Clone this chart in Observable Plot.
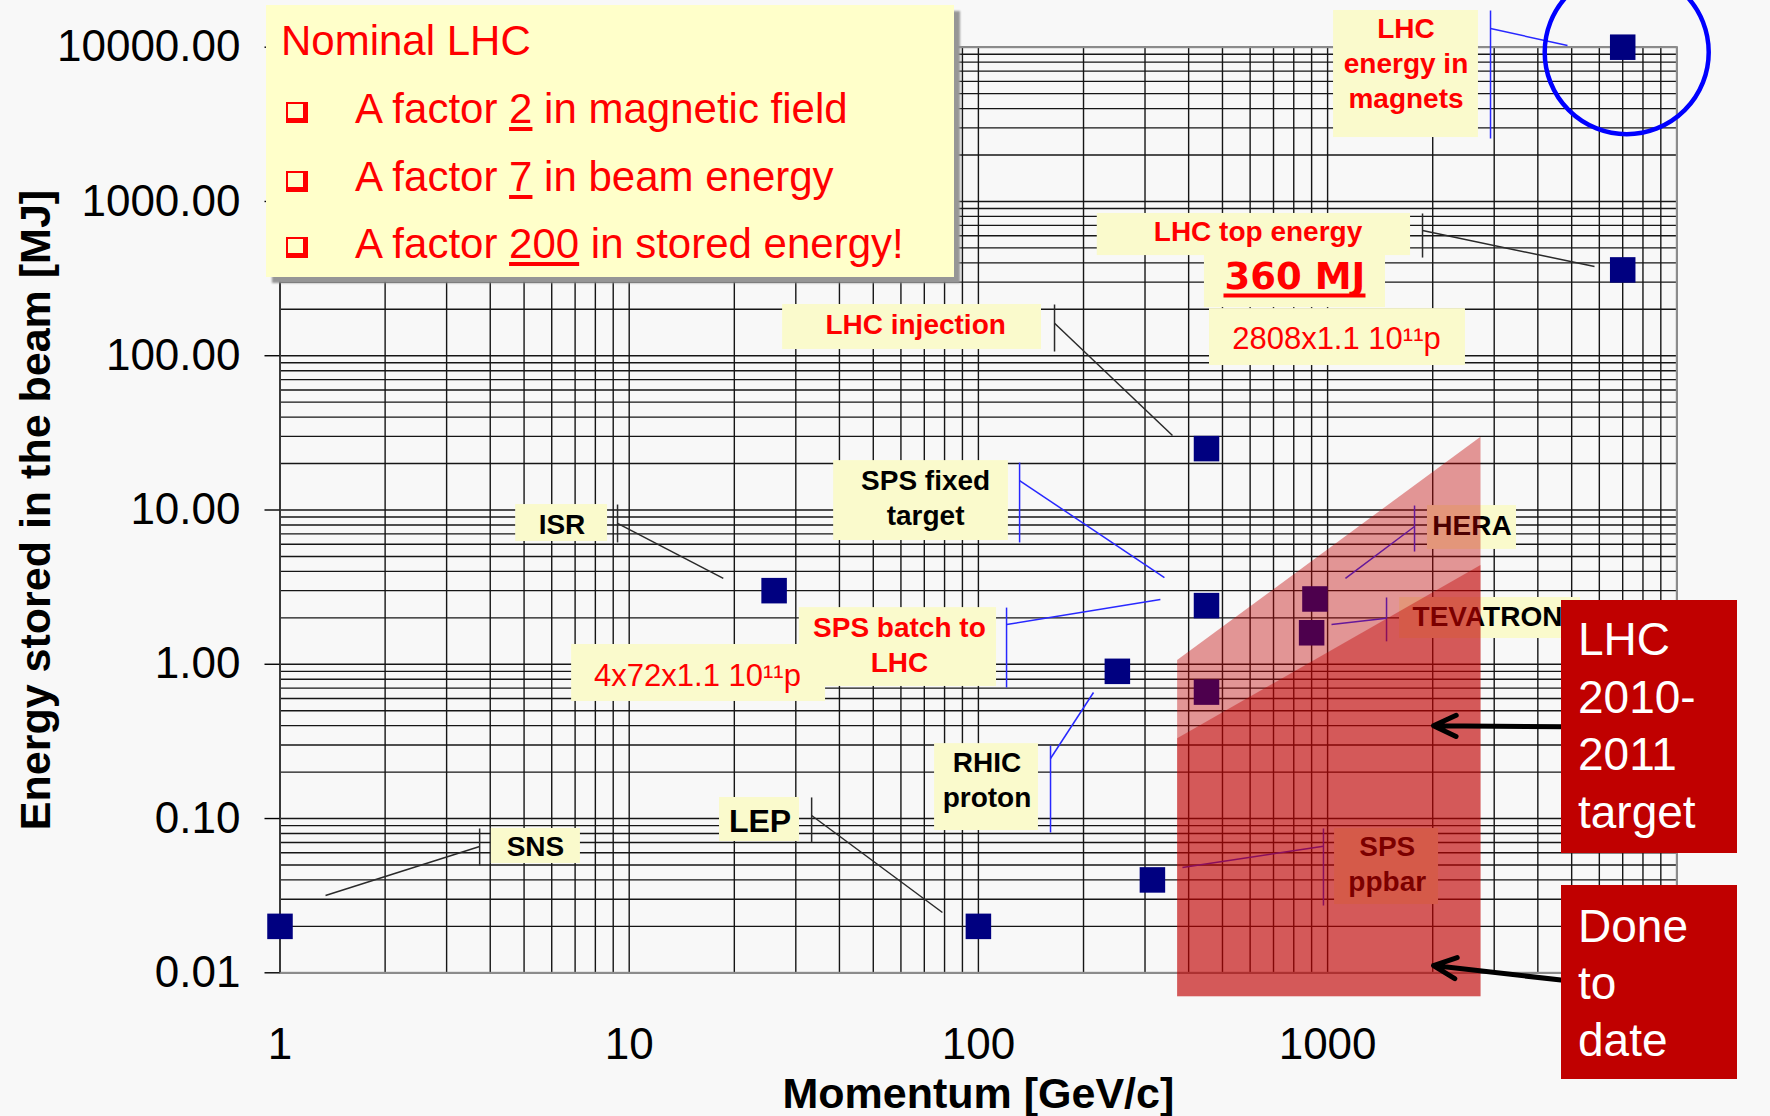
<!DOCTYPE html>
<html lang="en">
<head>
<meta charset="utf-8">
<title>Energy stored in the beam</title>
<script src="https://cdn.jsdelivr.net/npm/d3@7"></script>
<script src="https://cdn.jsdelivr.net/npm/@observablehq/plot@0.6"></script>
<style>
  html, body { margin: 0; padding: 0; background: #f8f8f8; overflow: hidden; }
  #chart { position: relative; width: 1770px; height: 1116px; overflow: hidden;
           font-family: "Liberation Sans", Arial, sans-serif; }
  #chart svg { display: block; }
  .note { position: absolute; box-sizing: border-box; }
  .nominal { left: 266px; top: 5px; width: 688px; height: 272px; background: #ffffca;
             box-shadow: 6px 6px 2px #969696; color: #ff0000; font-size: 42px; }
  .nominal .line { position: absolute; white-space: nowrap; line-height: 50px; }
  .nominal u { text-decoration-thickness: 3.5px; text-underline-offset: 4px; }
  .bullet { position: absolute; left: 20px; width: 15px; height: 14px; box-sizing: content-box;
            border: 2px solid #ff0000; border-right-width: 5px; border-bottom-width: 5px; }
  .redbox { left: 1561px; width: 176px; padding-left: 17px; background: #c00000; color: #ffffff;
            font-size: 46px; line-height: 57.4px; }
</style>
</head>
<body>
<div id="chart">
  <div class="note nominal">
    <div class="line" style="left:15px; top:10.5px">Nominal LHC</div>
    <span class="bullet" style="top:96.5px"></span>
    <div class="line" style="left:89px; top:78.8px">A factor <u>2</u> in magnetic field</div>
    <span class="bullet" style="top:165.5px"></span>
    <div class="line" style="left:89px; top:147.1px">A factor <u>7</u> in beam energy</div>
    <span class="bullet" style="top:232px"></span>
    <div class="line" style="left:89px; top:213.7px">A factor <u>200</u> in stored energy!</div>
  </div>
  <div class="note redbox" style="top:600px; height:253px; padding-top:11.4px">LHC<br>2010-<br>2011<br>target</div>
  <div class="note redbox" style="top:885px; height:194px; padding-top:12.5px">Done<br>to<br>date</div>
</div>
<script>
// Stored beam energy [MJ] against beam momentum [GeV/c]
const machines = ["SNS", "LEP", "ISR", "RHIC proton", "SPS ppbar", "SPS fixed target",
                  "SPS 450 GeV", "LHC injection", "HERA", "TEVATRON", "LHC top energy", "LHC energy in magnets"];
const momentumGeV    = [1,    100,  26, 250, 315,  450, 450,  450, 920,  900, 7000, 7000];
const storedEnergyMJ = [0.02, 0.02, 3,  0.9, 0.04, 2.4, 0.66, 25,  2.65, 1.6, 360,  10000];

// Axis ticks
const momentumTicks = [1, 10, 100, 1000];
const energyTicks = [0.01, 0.1, 1, 10, 100, 1000, 10000];

const points = machines.map((name, i) => ({name, momentum: momentumGeV[i], energy: storedEnergyMJ[i]}));

// Shaded regions: LHC 2010-2011 target (lighter) and done to date (drawn on top)
const zones = [
  {zone: "target", momentum: 372,  lo: 0.0070, hi: 1.058},
  {zone: "target", momentum: 2750, lo: 0.0070, hi: 29.65},
  {zone: "done",   momentum: 372,  lo: 0.0070, hi: 0.3287},
  {zone: "done",   momentum: 2750, lo: 0.0070, hi: 4.367}
];

// Callout boxes, in data coordinates
const calloutBoxes = [
  {x1: 1040, x2: 2704, y1: 2597, y2: 17290},      // LHC energy in magnets
  {x1: 219,  x2: 1728, y1: 446,  y2: 836},        // LHC top energy
  {x1: 444,  x2: 1465, y1: 205,  y2: 467},        // 360 MJ
  {x1: 459,  x2: 2482, y1: 86.4, y2: 202},        // 2808 bunches
  {x1: 27.5, x2: 151.6, y1: 109.7, y2: 214.8},    // LHC injection
  {x1: 38.5, x2: 121.9, y1: 6.34, y2: 20.9},      // SPS fixed target
  {x1: 30.7, x2: 112.7, y1: 0.718, y2: 2.33},     // SPS batch to LHC
  {x1: 6.84, x2: 36.5, y1: 0.574, y2: 1.343},     // 4x72 bunches
  {x1: 4.73, x2: 8.67, y1: 6.25, y2: 10.85},      // ISR
  {x1: 18.14, x2: 30.74, y1: 0.0710, y2: 0.1369}, // LEP
  {x1: 4.03, x2: 7.25, y1: 0.0511, y2: 0.0862},   // SNS
  {x1: 74.9, x2: 148.6, y1: 0.0836, y2: 0.306},   // RHIC proton
  {x1: 1932, x2: 3475, y1: 5.55, y2: 10.69},      // HERA
  {x1: 1607, x2: 5299, y1: 1.469, y2: 2.709},     // TEVATRON
  {x1: 1047, x2: 2078, y1: 0.0277, y2: 0.0862}    // SPS ppbar
];

const red = "#ff0000", ink = "#000000", lead = "#2a2a2a", blue = "#2828ff";

const singleLabels = [
  {text: "LHC top energy", x: 632,  y: 630,    color: red, size: 28},
  {text: "LHC injection",  x: 66.1, y: 157.9,  color: red, size: 28},
  {text: "ISR",            x: 6.42, y: 8.05,   color: ink, size: 28},
  {text: "LEP",            x: 23.7, y: 0.0950, color: ink, size: 32},
  {text: "SNS",            x: 5.39, y: 0.0649, color: ink, size: 28},
  {text: "HERA",           x: 2591, y: 7.90,   color: ink, size: 28}
];
const multiLabels = [
  {text: "LHC\nenergy in\nmagnets", x: 1677, y: 8017,   color: red},
  {text: "SPS fixed\ntarget",       x: 70.6, y: 12.18,  color: ink},
  {text: "SPS batch to\nLHC",       x: 59.4, y: 1.373,  color: red},
  {text: "RHIC\nproton",            x: 105.8, y: 0.1817, color: ink},
  {text: "SPS\nppbar",              x: 1482, y: 0.0522, color: ink}
];
const bunchLabels = [
  {text: "2808x1.1 10\u00b9\u00b9p", x: 1060,  y: 128.6},
  {text: "4x72x1.1 10\u00b9\u00b9p",  x: 15.69, y: 0.839}
];

// Leader lines: a bar along the box side, then a line towards the machine
const leaders = [
  {x1: 2928, y1: 17290, x2: 2928, y2: 2559,  color: blue},
  {x1: 2928, y1: 13215, x2: 4864, y2: 10254, color: blue},
  {x1: 1870, y1: 836,   x2: 1870, y2: 433,   color: lead},
  {x1: 1870, y1: 648,   x2: 5812, y2: 379,   color: lead},
  {x1: 165.2, y1: 214.8, x2: 165.2, y2: 106.5, color: lead},
  {x1: 165.2, y1: 162.5, x2: 359.6, y2: 30.4,  color: lead},
  {x1: 131.2, y1: 20.3,  x2: 131.2, y2: 6.16,  color: blue},
  {x1: 131.2, y1: 15.5,  x2: 341,   y2: 3.65,  color: blue},
  {x1: 120.4, y1: 2.33,  x2: 120.4, y2: 0.707, color: blue},
  {x1: 120.4, y1: 1.81,  x2: 332,   y2: 2.63,  color: blue},
  {x1: 9.26, y1: 10.85,  x2: 9.26,  y2: 6.16,  color: lead},
  {x1: 9.26, y1: 8.18,   x2: 18.6,  y2: 3.60,  color: lead},
  {x1: 33.3, y1: 0.137,  x2: 33.3,  y2: 0.0699, color: lead},
  {x1: 33.3, y1: 0.1046, x2: 78.9,  y2: 0.0246, color: lead},
  {x1: 3.73, y1: 0.0862, x2: 3.73,  y2: 0.0496, color: lead},
  {x1: 3.73, y1: 0.0659, x2: 1.35,  y2: 0.0317, color: lead},
  {x1: 160.9, y1: 0.297, x2: 160.9, y2: 0.0812, color: blue},
  {x1: 160.9, y1: 0.245, x2: 213.6, y2: 0.656,  color: blue},
  {x1: 1774, y1: 10.69,  x2: 1774,  y2: 5.38,  color: blue},
  {x1: 1774, y1: 7.82,   x2: 1125,  y2: 3.60,  color: blue},
  {x1: 1475, y1: 2.71,   x2: 1475,  y2: 1.408, color: blue},
  {x1: 1475, y1: 1.99,   x2: 1026,  y2: 1.81,  color: blue},
  {x1: 973,  y1: 0.0862, x2: 973,   y2: 0.0273, color: blue},
  {x1: 973,  y1: 0.0662, x2: 384,   y2: 0.0482, color: blue}
];

// Arrows from the two red notes into the shaded regions
const arrows = [
  {x1: 4800, y1: 0.393,  x2: 2010, y2: 0.400},
  {x1: 4800, y1: 0.0089, x2: 2010, y2: 0.01115}
];

const xGrid = d3.scaleLog().domain([1, 1e4]).ticks(40);
const yGrid = d3.scaleLog().domain([0.01, 1e4]).ticks(60);
const gridInk = "#161616";

const plot = Plot.plot({
  width: 1770,
  height: 1116,
  marginLeft: 279.5,
  marginRight: 93.7,
  marginTop: 46.7,
  marginBottom: 143.7,
  x: {type: "log", domain: [1, 10000]},
  y: {type: "log", domain: [0.01, 10000]},
  color: {type: "identity"},
  style: {background: "#f8f8f8", color: "#000", fontFamily: "'Liberation Sans', Arial, sans-serif", overflow: "visible"},
  marks: [
    Plot.gridX(xGrid, {stroke: gridInk, strokeOpacity: 1, strokeWidth: 1.4}),
    Plot.gridY(yGrid, {stroke: gridInk, strokeOpacity: 1, strokeWidth: 1.4}),
    Plot.frame({stroke: "#8c8c8c", strokeWidth: 2}),
    Plot.ruleX([1], {stroke: gridInk, strokeWidth: 1.4}),
    Plot.axisY(energyTicks, {tickFormat: d => d.toFixed(2), tickSize: 15, tickPadding: 24.5,
                             fontSize: 44, strokeWidth: 1.4, label: null}),
    Plot.axisX(momentumTicks, {tickFormat: d3.format("d"), tickSize: 0, tickPadding: 55,
                               fontSize: 44, label: null}),
    Plot.text(["Energy stored in the beam [MJ]"], {text: d => d, frameAnchor: "left", textAnchor: "middle",
                             rotate: -90, dx: -244, fontSize: 43, fontWeight: "bold", fill: "#000"}),
    Plot.text(["Momentum [GeV/c]"], {text: d => d, frameAnchor: "bottom", textAnchor: "middle", lineAnchor: "top",
                             dy: 105, fontSize: 43, fontWeight: "bold", fill: "#000"}),

    // machines
    Plot.dot(points, {x: "momentum", y: "energy", symbol: "square", r: 14.4, fill: "#000080"}),

    // callouts
    Plot.link(leaders, {x1: "x1", y1: "y1", x2: "x2", y2: "y2", stroke: "color", strokeWidth: 1.5}),
    Plot.rect(calloutBoxes, {x1: "x1", x2: "x2", y1: "y1", y2: "y2", fill: "#fafacc"}),
    Plot.text(singleLabels, {x: "x", y: "y", text: "text", fill: "color", fontSize: d => d.size, fontWeight: "bold"}),
    Plot.text(multiLabels, {x: "x", y: "y", text: "text", fill: "color", fontSize: 28, fontWeight: "bold", lineHeight: 1.25}),
    Plot.text([{text: "TEVATRON", x: 1751, y: 2.01}], {x: "x", y: "y", text: "text", fill: ink,
                             fontSize: 28, fontWeight: "bold", textAnchor: "start"}),
    Plot.text(bunchLabels, {x: "x", y: "y", text: "text", fill: red, fontSize: 31}),
    Plot.text([{text: "360 MJ", x: 806, y: 325.2}], {x: "x", y: "y", text: "text", fill: red,
                             fontSize: 37, fontWeight: "bold", fontFamily: "'DejaVu Sans', sans-serif"}),
    Plot.ruleY([{y: 245.7, x1: 505, x2: 1288}], {y: "y", x1: "x1", x2: "x2", stroke: red, strokeWidth: 4}),

    // shaded regions
    Plot.areaY(zones, {x: "momentum", y1: "lo", y2: "hi", z: "zone", fill: "#c00000", fillOpacity: 0.4}),

    // ring around the stored magnet energy
    Plot.dot(points.filter(d => d.name === "LHC energy in magnets"),
             {x: "momentum", y: "energy", r: 82, dx: 4, dy: 5, stroke: "#0000ff", strokeWidth: 4.5, fill: "none"}),

    Plot.arrow(arrows, {x1: "x1", y1: "y1", x2: "x2", y2: "y2", stroke: "#000", strokeWidth: 5,
                        headAngle: 50, headLength: 7.5})
  ]
});

document.getElementById("chart").prepend(plot);
</script>
</body>
</html>
